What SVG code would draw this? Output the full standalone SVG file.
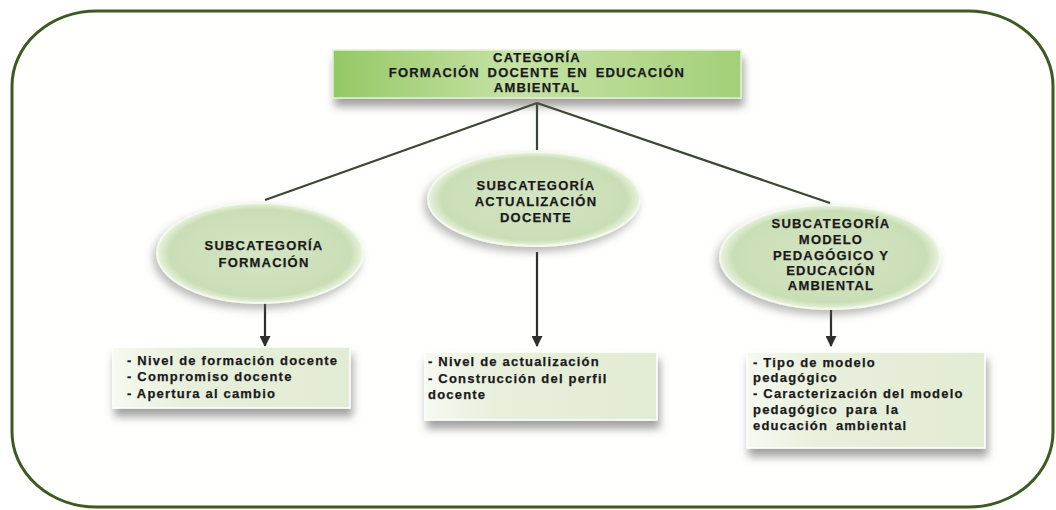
<svg xmlns="http://www.w3.org/2000/svg" width="1056" height="510" viewBox="0 0 1056 510">
<defs>
<style>
.t{font-family:"Liberation Sans",Arial,sans-serif;font-weight:bold;font-size:13px;fill:#1a1a1a;letter-spacing:1.2px;stroke:#1a1a1a;stroke-width:0.25px}
.c{text-anchor:middle}
.con{stroke:#3b4733;stroke-width:2.2;fill:none}
.arr{stroke:#2e2e2e;stroke-width:2.2;fill:none}
</style>
<linearGradient id="gTop" x1="0" y1="0" x2="1" y2="0">
<stop offset="0" stop-color="#94c865"/>
<stop offset="0.45" stop-color="#c6e2a6"/>
<stop offset="1" stop-color="#a3d078"/>
</linearGradient>
<radialGradient id="gEl" cx="0.5" cy="0.5" r="0.5">
<stop offset="0" stop-color="#d4e5c3"/>
<stop offset="0.88" stop-color="#cadeb6"/>
<stop offset="1" stop-color="#e9f3df"/>
</radialGradient>
<linearGradient id="gBox" x1="0" y1="0" x2="1" y2="0">
<stop offset="0" stop-color="#f6f9f1"/>
<stop offset="0.3" stop-color="#e8f0dc"/>
<stop offset="1" stop-color="#e2ebd3"/>
</linearGradient>
<filter id="sh" x="-20%" y="-30%" width="140%" height="170%">
<feDropShadow dx="2" dy="8" stdDeviation="4" flood-color="#555" flood-opacity="0.55"/>
</filter>
<filter id="shE" x="-20%" y="-30%" width="140%" height="160%">
<feDropShadow dx="-3" dy="5" stdDeviation="4" flood-color="#666" flood-opacity="0.45"/>
</filter>
<marker id="ah" viewBox="0 0 10 10" refX="9" refY="5" markerWidth="5" markerHeight="5" orient="auto">
<path d="M0,0 L10,5 L0,10 z" fill="#2e2e2e"/>
</marker>
</defs>
<rect x="0" y="0" width="1056" height="510" fill="#ffffff"/>
<rect id="frame" x="12" y="11" width="1041" height="496" rx="85" ry="75" fill="#fffffd" stroke="#3e5a23" stroke-width="3"/>

<g id="connectors">
<line class="con" x1="537" y1="103" x2="265" y2="200"/>
<line class="con" x1="537" y1="103" x2="537" y2="150"/>
<line class="con" x1="537" y1="103" x2="830" y2="203"/>
<line class="arr" x1="265" y1="303" x2="265" y2="346" marker-end="url(#ah)"/>
<line class="arr" x1="537" y1="252" x2="537" y2="346" marker-end="url(#ah)"/>
<line class="arr" x1="831" y1="310" x2="831" y2="346" marker-end="url(#ah)"/>
</g>

<g id="categoria">
<rect x="333" y="50" width="408" height="48" fill="url(#gTop)" stroke="#e4f2d4" stroke-width="1.5" filter="url(#sh)"/>
<text class="t c" x="537" y="62">CATEGORÍA</text>
<text class="t c" x="537" y="77" word-spacing="3">FORMACIÓN DOCENTE EN EDUCACIÓN</text>
<text class="t c" x="537" y="92">AMBIENTAL</text>
</g>

<g id="sub-formacion">
<ellipse cx="260" cy="253" rx="103" ry="50" fill="url(#gEl)" stroke="#f4f9ee" stroke-width="2" filter="url(#shE)"/>
<text class="t c" x="264" y="250">SUBCATEGORÍA</text>
<text class="t c" x="264" y="267">FORMACIÓN</text>
</g>

<g id="sub-actualizacion">
<ellipse cx="534" cy="199" rx="106" ry="47" fill="url(#gEl)" stroke="#f4f9ee" stroke-width="2" filter="url(#shE)"/>
<text class="t c" x="536" y="190">SUBCATEGORÍA</text>
<text class="t c" x="536" y="206">ACTUALIZACIÓN</text>
<text class="t c" x="536" y="222">DOCENTE</text>
</g>

<g id="sub-modelo">
<ellipse cx="830" cy="257" rx="110" ry="52" fill="url(#gEl)" stroke="#f4f9ee" stroke-width="2" filter="url(#shE)"/>
<text class="t c" x="831" y="228">SUBCATEGORÍA</text>
<text class="t c" x="831" y="244">MODELO</text>
<text class="t c" x="831" y="260">PEDAGÓGICO Y</text>
<text class="t c" x="831" y="275">EDUCACIÓN</text>
<text class="t c" x="831" y="290">AMBIENTAL</text>
</g>

<g id="box-formacion">
<rect x="113" y="347" width="237" height="61" fill="url(#gBox)" stroke="#ffffff" stroke-width="1.5" filter="url(#sh)"/>
<text class="t" x="127" y="365">- Nivel de formación docente</text>
<text class="t" x="127" y="381">- Compromiso docente</text>
<text class="t" x="127" y="398">- Apertura al cambio</text>
</g>

<g id="box-actualizacion">
<rect x="425" y="352" width="232" height="68" fill="url(#gBox)" stroke="#ffffff" stroke-width="1.5" filter="url(#sh)"/>
<text class="t" x="428" y="366">- Nivel de actualización</text>
<text class="t" x="428" y="383">- Construcción del perfil</text>
<text class="t" x="428" y="399">docente</text>
</g>

<g id="box-modelo">
<rect x="747" y="352" width="238" height="96" fill="url(#gBox)" stroke="#ffffff" stroke-width="1.5" filter="url(#sh)"/>
<text class="t" x="753" y="367">- Tipo de modelo</text>
<text class="t" x="753" y="382">pedagógico</text>
<text class="t" x="753" y="398">- Caracterización del modelo</text>
<text class="t" x="753" y="414" word-spacing="3">pedagógico para la</text>
<text class="t" x="753" y="430" word-spacing="3">educación ambiental</text>
</g>
</svg>
